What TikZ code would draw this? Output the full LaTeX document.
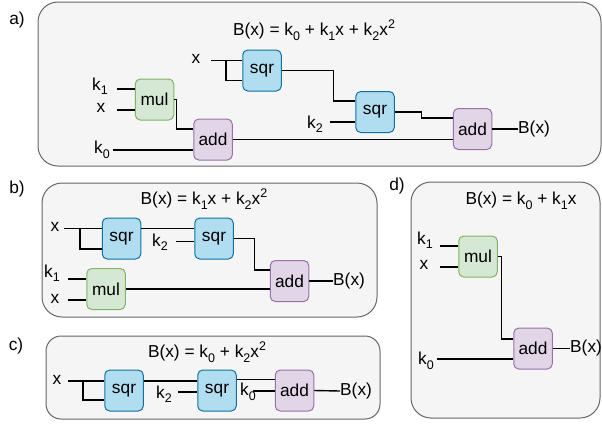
\documentclass[tikz,border=0pt]{standalone}
\usepackage{fontspec}
\setmainfont{Liberation Sans}
\usetikzlibrary{calc}
\definecolor{panelfill}{HTML}{F5F5F5}
\definecolor{paneldraw}{HTML}{666666}
\definecolor{sqrfill}{HTML}{B1DDF0}
\definecolor{sqrdraw}{HTML}{10739E}
\definecolor{mulfill}{HTML}{D5E8D4}
\definecolor{muldraw}{HTML}{82B366}
\definecolor{addfill}{HTML}{E1D5E7}
\definecolor{adddraw}{HTML}{9673A6}
\newcommand\ksub[1]{\raisebox{-4.5pt}{\fontsize{12.5}{13}\selectfont #1}}
\newcommand\ksup[1]{\raisebox{7pt}{\fontsize{12.5}{13}\selectfont #1}}
\tikzset{
  every node/.style={font=\fontsize{17.3}{20}\selectfont, inner sep=0},
  panel/.style={draw=paneldraw, fill=panelfill, line width=1, rounded corners=20},
  opbox/.style={draw, line width=1, rounded corners=5, minimum width=38.5, minimum height=41},
  sqrbox/.style={opbox, fill=sqrfill, draw=sqrdraw},
  mulbox/.style={opbox, fill=mulfill, draw=muldraw},
  addbox/.style={opbox, fill=addfill, draw=adddraw},
  wire/.style={draw=black, line width=1.4},
  outlbl/.style={anchor=west},
}
\begin{document}
\begin{tikzpicture}[x=1pt,y=-1pt]
\useasboundingbox (0,0) rectangle (602,424);

% ---------------- a) B(x) = k0 + k1 x + k2 x^2
\draw[panel] (38,2) rectangle (601,166);
\node (a-tag) at (17,20) {a)};
\node (a-title) at (314,30) {B(x) = k\ksub{0} + k\ksub{1}x + k\ksub{2}x\ksup{2}};
\node[sqrbox] (a-s1) at (262,70.5) {sqr};
\node[mulbox] (a-m)  at (154.5,99.5) {mul};
\node[addbox] (a-a1) at (213,139.5) {add};
\node[sqrbox] (a-s2) at (375,112) {sqr};
\node[addbox] (a-a2) at (472.5,129) {add};
\node (a-x) at (196,59) {x};
\node (a-k1) at (100,86) {k\ksub{1}};
\node (a-x2) at (101,108) {x};
\node (a-k0) at (102,150) {k\ksub{0}};
\node (a-k2) at (315,124) {k\ksub{2}};
\node[outlbl] (a-out) at (518,129) {B(x)};
\coordinate (a-xin) at (211,60.5);
\coordinate (a-xbr) at (226,60.5);
\coordinate (a-k1in) at (117,89);
\coordinate (a-x2in) at (117,110);
\coordinate (a-k0in) at (113,150);
\coordinate (a-k2in) at (330,122);
\draw[wire] (a-xin) -- ($(a-s1.west)+(0,-10)$);
\draw[wire] (a-xbr) |- ($(a-s1.west)+(0,10)$);
\draw[wire] (a-k1in) -- (a-k1in -| a-m.west);
\draw[wire] (a-x2in) -- (a-x2in -| a-m.west);
\draw[wire] (a-m.east) -- ++(2.5,0) |- ($(a-a1.west)+(0,-10.5)$);
\draw[wire] (a-k0in) -- (a-k0in -| a-a1.west);
\draw[wire] (a-a1.east) -- (a-a1.east -| a-a2.west);
\draw[wire] (a-s1.east) -- ++(52,0) |- ($(a-s2.west)+(0,-11)$);
\draw[wire] (a-k2in) -- (a-k2in -| a-s2.west);
\draw[wire] (a-s2.east) -- ++(27,0) |- ($(a-a2.west)+(0,-11)$);
\draw[wire] (a-a2.east) -- (a-out.west);

% ---------------- b) B(x) = k1 x + k2 x^2
\draw[panel] (42,183) rectangle (377,317);
\node (b-tag) at (17,189) {b)};
\node (b-title) at (204,199) {B(x) = k\ksub{1}x + k\ksub{2}x\ksup{2}};
\node[sqrbox] (b-s1) at (121.5,238.5) {sqr};
\node[sqrbox] (b-s2) at (214,238.5) {sqr};
\node[mulbox] (b-m)  at (106,289) {mul};
\node[addbox] (b-a)  at (289.5,281) {add};
\node (b-x) at (55,227) {x};
\node (b-k2) at (160,242) {k\ksub{2}};
\node (b-k1) at (52,273) {k\ksub{1}};
\node (b-x2) at (55,299) {x};
\node[outlbl] (b-out) at (333,281) {B(x)};
\coordinate (b-xin) at (64,228.5);
\coordinate (b-xbr) at (80,228.5);
\coordinate (b-k2in) at (176,241.5);
\coordinate (b-k1in) at (68,279);
\coordinate (b-x2in) at (68,300);
\draw[wire] (b-xin) -- ($(b-s1.west)+(0,-10)$);
\draw[wire] (b-xbr) |- ($(b-s1.west)+(0,10.5)$);
\draw[wire] ($(b-s1.east)+(0,-10)$) -- ($(b-s2.west)+(0,-10)$);
\draw[wire] (b-k2in) -- (b-k2in -| b-s2.west);
\draw[wire] (b-s2.east) -- ++(21,0) |- ($(b-a.west)+(0,-11)$);
\draw[wire] (b-k1in) -- (b-k1in -| b-m.west);
\draw[wire] (b-x2in) -- (b-x2in -| b-m.west);
\draw[wire] (b-m.east) -- (b-m.east -| b-a.west);
\draw[wire] (b-a.east) -- (b-out.west);

% ---------------- c) B(x) = k0 + k2 x^2
\draw[panel, rounded corners=15] (46,336) rectangle (380,419);
\node (c-tag) at (16,346) {c)};
\node (c-title) at (207,352) {B(x) = k\ksub{0} + k\ksub{2}x\ksup{2}};
\node[sqrbox] (c-s1) at (124,390.5) {sqr};
\node[sqrbox] (c-s2) at (217,390.5) {sqr};
\node[addbox] (c-a)  at (294.5,390.5) {add};
\node (c-x) at (57,380) {x};
\node (c-k2) at (164,394) {k\ksub{2}};
\node (c-k0) at (248,392) {k\ksub{0}};
\node[outlbl] (c-out) at (340,391) {B(x)};
\coordinate (c-xin) at (68,381);
\coordinate (c-xbr) at (83,381);
\coordinate (c-k2in) at (178,392);
\coordinate (c-k0in) at (253,391);
\draw[wire] (c-xin) -- ($(c-s1.west)+(0,-9.5)$);
\draw[wire] (c-xbr) |- ($(c-s1.west)+(0,9.5)$);
\draw[wire] ($(c-s1.east)+(0,-9.5)$) -- ($(c-s2.west)+(0,-9.5)$);
\draw[wire] (c-k2in) -- (c-k2in -| c-s2.west);
\draw[wire] ($(c-s2.east)+(0,-11)$) -- ($(c-a.west)+(0,-11)$);
\draw[wire] (c-k0in) -- (c-k0in -| c-a.west);
\draw[wire] (c-a.east) -- (c-out.west);

% ---------------- d) B(x) = k0 + k1 x
\draw[panel] (411,182) rectangle (600,418);
\node (d-tag) at (397,186) {d)};
\node (d-title) at (521,201) {B(x) = k\ksub{0} + k\ksub{1}x};
\node[mulbox] (d-m) at (478,256.5) {mul};
\node[addbox] (d-a) at (533,348.5) {add};
\node (d-k1) at (425,240) {k\ksub{1}};
\node (d-x) at (424,265) {x};
\node (d-k0) at (426,361) {k\ksub{0}};
\node[outlbl] (d-out) at (570,348.5) {B(x)};
\coordinate (d-k1in) at (440,246);
\coordinate (d-xin) at (440,267);
\coordinate (d-k0in) at (437,359);
\draw[wire] (d-k1in) -- (d-k1in -| d-m.west);
\draw[wire] (d-xin) -- (d-xin -| d-m.west);
\draw[wire] (d-m.east) -- ++(4,0) |- ($(d-a.west)+(0,-9.5)$);
\draw[wire] (d-k0in) -- (d-k0in -| d-a.west);
\draw[wire] (d-a.east) -- (d-out.west);
\end{tikzpicture}
\end{document}
